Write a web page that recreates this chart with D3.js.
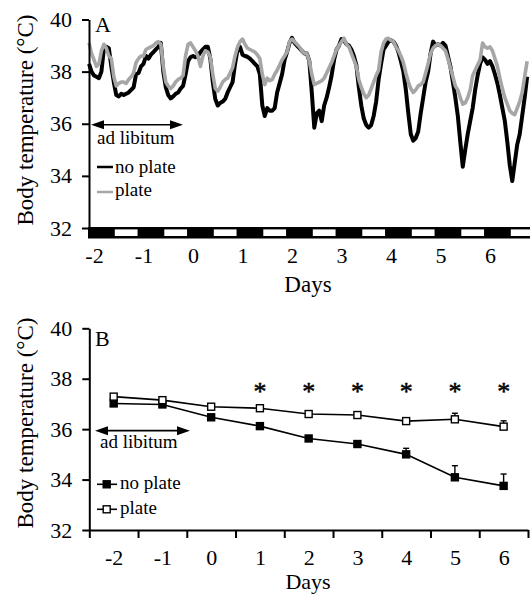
<!DOCTYPE html>
<html>
<head>
<meta charset="utf-8">
<script src="https://cdn.jsdelivr.net/npm/d3@7"></script>
<style>
  body { margin: 0; background: #fff; }
  svg text { font-family: "Liberation Serif", "Times New Roman", serif; fill: #000; }
</style>
</head>
<body>
<script>
// ---- panel A: body temperature trace, one reading every 0.05 day from day -2.1
const traceStart = -2.1;
const traceStep = 0.05;
const noPlateTrace = [
  38.3, 38.0, 37.85, 37.8, 37.75, 38.0, 38.9, 38.95, 38.9, 38.2,
  37.6, 37.1, 37.05, 37.15, 37.1, 37.15, 37.2, 37.3, 37.4, 37.9,
  37.95, 38.2, 38.3, 38.6, 38.5, 38.65, 38.75, 38.85, 38.95, 39.1,
  38.0, 37.4, 37.1, 36.97, 37.05, 37.15, 37.2, 37.35, 37.45, 37.9,
  38.4, 38.55, 38.6, 38.55, 38.6, 38.75, 38.85, 38.95, 38.95, 38.5,
  37.6, 36.95, 36.7, 36.8, 36.85, 36.95, 37.2, 37.4, 37.6, 38.3,
  38.85, 38.95, 38.65, 38.6, 38.57, 38.5, 38.4, 38.3, 38.2, 37.9,
  36.7, 36.3, 36.6, 36.5, 36.5, 36.6, 37.2, 37.55, 37.9, 38.45,
  38.75, 39.1, 39.3, 39.1, 39.0, 38.9, 38.8, 38.7, 38.7, 38.4,
  37.2, 35.85, 36.4, 36.5, 36.1, 36.7, 37.0, 37.4, 37.85, 38.45,
  38.85, 39.0, 39.25, 39.2, 39.05, 39.0, 38.85, 38.6, 38.25, 37.4,
  36.7, 36.2, 35.95, 35.85, 35.95, 36.3, 36.85, 37.7, 38.3, 38.85,
  39.0, 39.15, 39.2, 39.15, 39.0, 38.75, 38.4, 38.0, 37.3, 36.4,
  35.6, 35.35, 35.45, 35.7, 36.4, 37.0, 37.6, 38.0, 38.7, 39.15,
  39.0, 39.05, 39.0, 39.1, 39.0, 38.6, 38.2, 37.6, 37.0, 36.3,
  35.3, 34.35, 35.0, 35.6, 36.1, 36.6, 37.3, 37.85, 38.3, 38.55,
  38.45, 38.3, 38.4, 38.2, 37.9, 37.55, 37.1, 36.6, 36.1, 35.3,
  34.4, 33.8, 34.5, 35.2, 35.6, 36.3, 37.0, 37.8
];
const plateTrace = [
  39.1, 38.7, 38.45, 38.2, 38.3, 38.8, 39.05, 38.9, 38.6, 38.5,
  37.8, 37.45, 37.55, 37.6, 37.6, 37.55, 37.7, 37.8, 37.95, 38.35,
  38.5, 38.6, 38.6, 38.85, 38.9, 38.95, 39.0, 39.1, 39.15, 39.05,
  38.2, 37.6, 37.45, 37.35, 37.45, 37.6, 37.7, 37.75, 37.85, 38.6,
  39.05, 39.1, 38.95, 38.8, 38.6, 38.2, 38.6, 38.8, 38.75, 38.55,
  37.9, 37.35, 37.25, 37.4, 37.6, 37.7, 37.75, 37.95, 38.15, 38.6,
  38.95, 39.15, 39.25, 39.05, 38.9, 38.85, 38.8, 38.75, 38.65, 38.5,
  37.9, 37.5, 37.75, 37.65, 37.7, 37.9, 38.05, 38.25, 38.45, 38.6,
  38.75, 39.15, 39.25, 39.15, 39.05, 38.95, 38.8, 38.7, 38.7, 38.4,
  37.9, 37.5, 37.55, 37.6, 37.65, 37.75, 37.95, 38.15, 38.35, 38.6,
  38.85, 39.0, 39.15, 39.28, 39.05, 38.95, 38.7, 38.45, 38.2, 37.7,
  37.4, 37.15, 37.0, 37.1, 37.35, 37.6, 37.85, 38.05, 38.75, 39.1,
  39.25, 39.28, 39.2, 39.15, 38.95, 38.8, 38.6, 38.35, 37.95, 37.6,
  37.35, 37.2, 37.3, 37.45, 37.5, 37.6, 37.95, 38.3, 38.7, 38.9,
  39.0, 39.05, 39.0, 38.9, 38.8, 38.5, 38.15, 37.8, 37.45, 37.3,
  37.0, 36.75, 36.8, 37.0, 37.3, 37.85, 38.05, 38.25, 38.45, 39.1,
  38.95, 38.9, 38.95, 38.8, 38.5, 38.2, 37.75, 37.35, 37.0, 36.75,
  36.5, 36.4, 36.35, 36.6, 36.85, 37.2, 37.8, 38.4
];
// start of each light phase (days), light lasts half a day
const lightOn = [-1.6, -0.6, 0.4, 1.4, 2.4, 3.4, 4.4, 5.4, 6.4];
const lightLength = 0.5;

// ---- panel B: daily means with SE
const days = [-2, -1, 0, 1, 2, 3, 4, 5, 6];
const noPlateMean = [37.02, 36.98, 36.47, 36.12, 35.63, 35.41, 35.0, 34.09, 33.75];
const noPlateSE   = [0.08, 0.08, 0.1, 0.1, 0.1, 0.12, 0.24, 0.46, 0.47];
const plateMean   = [37.29, 37.15, 36.89, 36.83, 36.6, 36.56, 36.32, 36.39, 36.1];
const plateSE     = [0.08, 0.08, 0.1, 0.08, 0.12, 0.12, 0.08, 0.24, 0.23];
const signifDays  = [1, 2, 3, 4, 5, 6];
const starLevel   = 37.65;

const tempTicks = [32, 34, 36, 38, 40];
const dayLabels = [-2, -1, 0, 1, 2, 3, 4, 5, 6];

const W = 530, H = 596;
const svg = d3.select('body').append('svg')
  .attr('width', W).attr('height', H);

const grey = '#a6a6a6';

function styleAxis(g) {
  g.selectAll('path.domain').attr('stroke', '#000').attr('stroke-width', 2);
  g.selectAll('.tick line').attr('stroke', '#000').attr('stroke-width', 2);
  g.selectAll('text').attr('font-size', 22).attr('fill', '#000')
    .style('font-family', '"Liberation Serif", serif');
}

function arrow(g, x1, x2, y) {
  g.append('line').attr('x1', x1 + 4).attr('x2', x2 - 4).attr('y1', y).attr('y2', y)
    .attr('stroke', '#000').attr('stroke-width', 1.6);
  g.append('path').attr('d', `M${x1},${y} l13,-4.5 l0,9 Z`).attr('fill', '#000');
  g.append('path').attr('d', `M${x2},${y} l-13,-4.5 l0,9 Z`).attr('fill', '#000');
}

// ================= Panel A =================
const xA = d3.scaleLinear().domain([-2, 6]).range([94, 490]);
const yA = d3.scaleLinear().domain([32, 40]).range([228, 19.5]);
const gA = svg.append('g');

// light/dark bar
gA.append('rect').attr('x', 88).attr('y', 227).attr('width', W - 88).attr('height', 11.5)
  .attr('fill', '#000');
gA.selectAll('rect.light').data(lightOn).join('rect')
  .attr('class', 'light')
  .attr('x', d => xA(d) + 1)
  .attr('width', d => xA(d + lightLength) - xA(d) - 2)
  .attr('y', 229.4).attr('height', 6.6)
  .attr('fill', '#fff');

const tTime = i => traceStart + i * traceStep;
const lineA = d3.line().x((d, i) => xA(tTime(i))).y(d => yA(d));

gA.append('path').datum(noPlateTrace).attr('d', lineA)
  .attr('fill', 'none').attr('stroke', '#000').attr('stroke-width', 4)
  .attr('stroke-linejoin', 'round');
gA.append('path').datum(plateTrace).attr('d', lineA)
  .attr('fill', 'none').attr('stroke', grey).attr('stroke-width', 3.6)
  .attr('stroke-linejoin', 'round');

const axA = gA.append('g').attr('transform', 'translate(89,0)')
  .call(d3.axisLeft(yA).tickValues(tempTicks).tickSize(7).tickPadding(10).tickSizeOuter(0));
styleAxis(axA);

const axAx = gA.append('g').attr('transform', 'translate(0,238)')
  .call(d3.axisBottom(xA).tickValues(dayLabels).tickSize(0).tickPadding(9).tickFormat(d => String(d)));
axAx.select('path.domain').remove();
styleAxis(axAx);

gA.append('text').attr('x', 308).attr('y', 292).attr('text-anchor', 'middle')
  .attr('font-size', 23).text('Days');
gA.append('text').attr('transform', 'translate(33,120) rotate(-90)')
  .attr('text-anchor', 'middle').attr('font-size', 23).text('Body temperature (°C)');
gA.append('text').attr('x', 95).attr('y', 32).attr('font-size', 22).text('A');

arrow(gA, 91, 183, yA(36) + 1);
gA.append('text').attr('x', 97).attr('y', 144).attr('font-size', 19).text('ad libitum');

gA.append('line').attr('x1', 97).attr('x2', 113).attr('y1', 167).attr('y2', 167)
  .attr('stroke', '#000').attr('stroke-width', 2.5);
gA.append('text').attr('x', 115).attr('y', 173).attr('font-size', 19).text('no plate');
gA.append('line').attr('x1', 97).attr('x2', 113).attr('y1', 192).attr('y2', 192)
  .attr('stroke', grey).attr('stroke-width', 2.5);
gA.append('text').attr('x', 115).attr('y', 196).attr('font-size', 19).text('plate');

// ================= Panel B =================
const xB = d3.scaleLinear().domain([-2.5, 6.5]).range([89.3, 528]);
const yB = d3.scaleLinear().domain([32, 40]).range([530, 328.3]);
const gB = svg.append('g');

const axB = gB.append('g').attr('transform', 'translate(89.3,0)')
  .call(d3.axisLeft(yB).tickValues(tempTicks).tickSize(7).tickPadding(10).tickSizeOuter(0));
styleAxis(axB);

const bounds = d3.range(-2.5, 6.6, 1);
const axBx = gB.append('g').attr('transform', 'translate(0,530)')
  .call(d3.axisBottom(xB).tickValues(bounds).tickSize(8).tickSizeOuter(0).tickFormat(''));
styleAxis(axBx);
const axBl = gB.append('g').attr('transform', 'translate(0,530)')
  .call(d3.axisBottom(xB).tickValues(dayLabels).tickSize(0).tickPadding(19).tickFormat(d => String(d)));
axBl.select('path.domain').remove();
styleAxis(axBl);

gB.append('text').attr('x', 308).attr('y', 589).attr('text-anchor', 'middle')
  .attr('font-size', 22).text('Days');
gB.append('text').attr('transform', 'translate(33,423) rotate(-90)')
  .attr('text-anchor', 'middle').attr('font-size', 23).text('Body temperature (°C)');
gB.append('text').attr('x', 95).attr('y', 346).attr('font-size', 22).text('B');

const seriesB = [
  { mean: noPlateMean, se: noPlateSE, fill: '#000' },
  { mean: plateMean, se: plateSE, fill: '#fff' }
];
const lineB = d3.line().x((d, i) => xB(days[i])).y(d => yB(d));

seriesB.forEach(s => {
  gB.append('path').datum(s.mean).attr('d', lineB)
    .attr('fill', 'none').attr('stroke', '#000').attr('stroke-width', 1.6);
  const eb = gB.append('g');
  days.forEach((d, i) => {
    const x = xB(d), y0 = yB(s.mean[i]), y1 = yB(s.mean[i] + s.se[i]);
    eb.append('line').attr('x1', x).attr('x2', x).attr('y1', y0).attr('y2', y1)
      .attr('stroke', '#000').attr('stroke-width', 1.4);
    eb.append('line').attr('x1', x - 3).attr('x2', x + 3).attr('y1', y1).attr('y2', y1)
      .attr('stroke', '#000').attr('stroke-width', 1.4);
  });
});
seriesB.forEach(s => {
  gB.selectAll(null).data(s.mean).join('rect')
    .attr('x', (d, i) => xB(days[i]) - 3.5).attr('y', d => yB(d) - 3.5)
    .attr('width', 7).attr('height', 7)
    .attr('fill', s.fill).attr('stroke', '#000').attr('stroke-width', 1.4);
});

// stroked so the thin glyph renders solid black
gB.selectAll('text.star').data(signifDays).join('text')
  .attr('class', 'star')
  .attr('x', d => xB(d)).attr('y', yB(starLevel) + 12)
  .attr('text-anchor', 'middle').attr('font-size', 26)
  .attr('stroke', '#000').attr('stroke-width', 0.5)
  .text('*');

arrow(gB, 95, 190, yB(36) + 1.5);
gB.append('text').attr('x', 100).attr('y', 448).attr('font-size', 19).text('ad libitum');

const legB = [
  { y: 484.3, fill: '#000', label: 'no plate', ty: 489 },
  { y: 509.3, fill: '#fff', label: 'plate', ty: 514 }
];
legB.forEach(l => {
  gB.append('line').attr('x1', 97).attr('x2', 117).attr('y1', l.y).attr('y2', l.y)
    .attr('stroke', '#000').attr('stroke-width', 1.6);
  gB.append('rect').attr('x', 103.2).attr('y', l.y - 3.5).attr('width', 7).attr('height', 7)
    .attr('fill', l.fill).attr('stroke', '#000').attr('stroke-width', 1.4);
  gB.append('text').attr('x', 120).attr('y', l.ty).attr('font-size', 19).text(l.label);
});
</script>
</body>
</html>
